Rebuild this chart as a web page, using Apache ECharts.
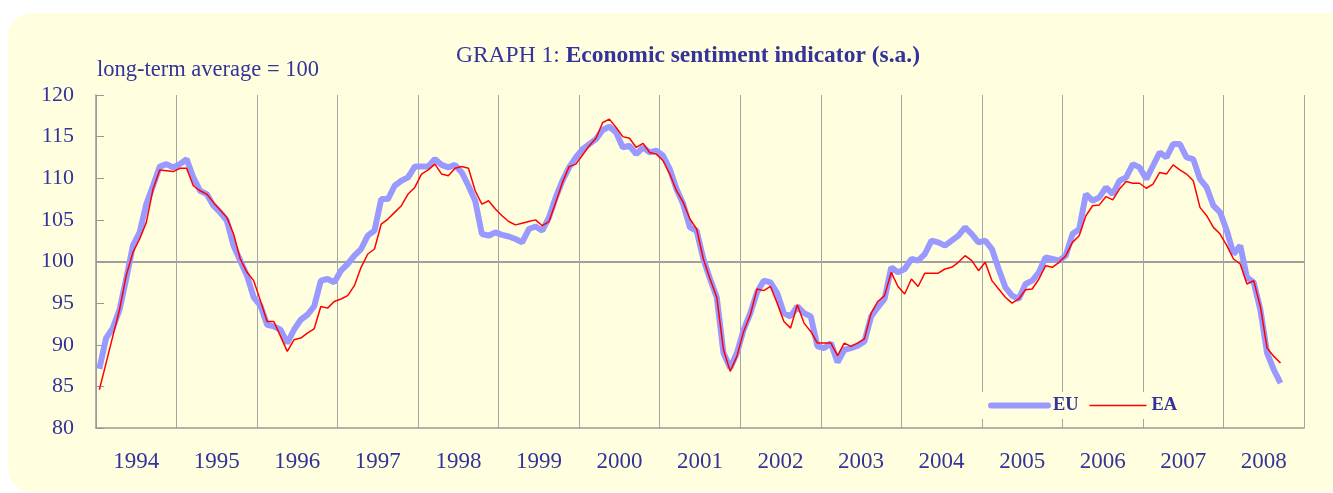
<!DOCTYPE html>
<html>
<head>
<meta charset="utf-8">
<script src="https://cdn.jsdelivr.net/npm/echarts@6/dist/echarts.min.js"></script>
<style>
html,body{margin:0;padding:0;background:#ffffff;width:1333px;height:493px;overflow:hidden}
#bg{position:absolute;left:8px;top:13px;width:1345px;height:479px;background:#ffffe0;border-radius:24px}
#chart{position:absolute;left:0;top:0;width:1333px;height:493px}
</style>
</head>
<body>
<div id="bg"></div>
<div id="chart"></div>
<script>
// Year labels (monthly data Jan 1994 - Sep 2008)
const years = ['1994','1995','1996','1997','1998','1999','2000','2001','2002','2003','2004','2005','2006','2007','2008'];
const yMin = 80, yMax = 120, yStep = 5;

// EU economic sentiment indicator, monthly from Jan 1994
const euValues = [
  87.1, 90.8, 92.0, 94.2, 97.9, 101.9, 103.5, 106.9, 109.1, 111.4, 111.7, 111.3,
  111.7, 112.3, 110.1, 108.5, 108.1, 106.7, 105.9, 104.9, 101.9, 100.1, 98.3, 95.7,
  94.7, 92.4, 92.2, 91.8, 90.2, 91.8, 93.0, 93.6, 94.6, 97.7, 97.9, 97.5,
  98.9, 99.7, 100.7, 101.5, 103.1, 103.7, 107.5, 107.5, 109.1, 109.7, 110.1, 111.4,
  111.4, 111.4, 112.3, 111.6, 111.3, 111.6, 110.7, 109.1, 107.3, 103.3, 103.1, 103.5,
  103.2, 103.0, 102.7, 102.3, 103.9, 104.2, 103.7, 105.3, 107.7, 109.7, 111.3, 112.5,
  113.5, 114.1, 114.7, 115.8, 116.2, 115.5, 113.7, 113.9, 112.9, 113.7, 113.1, 113.3,
  112.7, 111.1, 108.7, 106.9, 104.1, 103.7, 100.3, 97.9, 95.7, 89.0, 87.2, 89.0,
  91.8, 93.8, 96.3, 97.7, 97.5, 96.2, 93.8, 93.4, 94.6, 93.8, 93.4, 89.8,
  89.6, 90.2, 87.9, 89.4, 89.6, 89.9, 90.4, 93.4, 94.5, 95.5, 99.3, 98.7,
  99.1, 100.3, 100.1, 100.9, 102.5, 102.3, 101.9, 102.5, 103.1, 104.1, 103.3, 102.3,
  102.5, 101.5, 99.1, 96.9, 95.9, 95.5, 97.3, 97.7, 98.7, 100.5, 100.3, 100.1,
  100.7, 103.3, 103.9, 108.1, 107.3, 107.7, 108.9, 108.1, 109.7, 110.1, 111.7, 111.3,
  109.9, 111.5, 113.1, 112.5, 114.1, 114.1, 112.5, 112.3, 109.9, 108.9, 106.7, 105.9,
  103.7, 100.9, 101.9, 98.1, 97.5, 94.2, 89.0, 87.0, 85.4
];

// Euro area economic sentiment indicator, monthly from Jan 1994
const eaValues = [
  84.6, 87.8, 91.0, 94.2, 98.3, 101.1, 102.7, 104.7, 108.7, 111.0, 110.9, 110.8,
  111.2, 111.2, 109.1, 108.5, 108.1, 107.1, 106.2, 105.3, 103.3, 100.3, 98.7, 97.7,
  95.3, 92.8, 92.8, 91.0, 89.2, 90.6, 90.8, 91.4, 91.9, 94.6, 94.4, 95.2,
  95.5, 95.9, 97.1, 99.3, 100.9, 101.5, 104.5, 105.1, 105.9, 106.7, 108.1, 108.9,
  110.5, 111.0, 111.7, 110.5, 110.3, 111.2, 111.4, 111.2, 108.5, 106.9, 107.3, 106.3,
  105.5, 104.8, 104.4, 104.6, 104.8, 105.0, 104.3, 104.8, 107.1, 109.5, 111.4, 111.7,
  112.8, 113.9, 114.8, 116.7, 117.1, 116.1, 115.0, 114.8, 113.7, 114.2, 113.1, 112.9,
  112.1, 110.5, 108.5, 107.1, 105.1, 103.9, 100.3, 97.9, 95.7, 89.4, 86.8, 88.6,
  91.6, 93.6, 96.7, 96.5, 97.0, 95.0, 92.8, 92.0, 94.8, 92.6, 91.6, 90.2,
  90.2, 90.2, 88.7, 90.2, 89.8, 90.2, 90.7, 93.8, 95.2, 95.9, 98.7, 97.0,
  96.1, 97.9, 97.0, 98.6, 98.6, 98.6, 99.1, 99.3, 99.9, 100.7, 100.1, 98.9,
  99.9, 97.7, 96.7, 95.7, 95.0, 95.5, 96.6, 96.7, 97.9, 99.5, 99.3, 99.9,
  100.7, 102.3, 103.1, 105.5, 106.7, 106.8, 107.8, 107.4, 108.7, 109.6, 109.4, 109.4,
  108.8, 109.3, 110.7, 110.5, 111.6, 111.0, 110.5, 109.7, 106.5, 105.5, 104.1, 103.3,
  101.9, 100.3, 99.7, 97.3, 97.7, 94.6, 89.6, 88.6, 87.8
];

const TXT = '#333399';
const SERIF = '"Liberation Serif","DejaVu Serif","Times New Roman",serif';
const monthsTotal = years.length * 12;

// place each monthly value at the middle of its month on a month scale
const euData = euValues.map((v, i) => [i + 0.5, v]);
const eaData = eaValues.map((v, i) => [i + 0.5, v]);

const nLines = (yMax - yMin) / yStep + 1;
const splitColors = [];
for (let k = 0; k < nLines; k++) {
  splitColors.push(yMin + k * yStep === 100 ? '#a0a0a0' : 'rgba(0,0,0,0)');
}

const chart = echarts.init(document.getElementById('chart'), null, {renderer: 'canvas'});
chart.setOption({
  backgroundColor: 'transparent',
  animation: false,
  title: [
    {
      text: '{a|GRAPH 1: }{b|Economic sentiment indicator (s.a.)}',
      left: 688, top: 44, padding: 0, textAlign: 'center',
      textStyle: {
        rich: {
          a: {fontFamily: SERIF, fontSize: 23.5, color: TXT, fontWeight: 'normal'},
          b: {fontFamily: SERIF, fontSize: 23.5, color: TXT, fontWeight: 'bold'}
        }
      }
    },
    {
      text: 'long-term average = 100',
      left: 97, top: 59, padding: 0,
      textStyle: {fontFamily: SERIF, fontSize: 22.5, color: TXT, fontWeight: 'normal'}
    }
  ],
  legend: {
    left: 978, top: 392, padding: [4, 10],
    backgroundColor: '#ffffe0',
    itemWidth: 57, itemHeight: 14, itemGap: 10,
    textStyle: {fontFamily: SERIF, fontSize: 18.5, fontWeight: 'bold', color: TXT},
    data: [
      {name: 'EU', itemStyle: {opacity: 0}, lineStyle: {width: 6, cap: 'round', color: '#9999ff'}},
      {name: 'EA', itemStyle: {opacity: 0}, lineStyle: {width: 1.5, color: '#ff0000'}}
    ]
  },
  grid: {left: 96, right: 29, top: 95, bottom: 65, containLabel: false, outerBoundsMode: 'none'},
  xAxis: [
    {
      type: 'value', min: 0, max: monthsTotal, interval: 12,
      axisLine: {show: true, lineStyle: {color: '#999999', width: 1.5}},
      axisTick: {show: false},
      axisLabel: {show: false},
      splitLine: {show: true, lineStyle: {color: '#a6a6a6', width: 1}}
    },
    {
      type: 'category', data: years, position: 'bottom', boundaryGap: true,
      axisLine: {show: false}, axisTick: {show: false},
      splitLine: {show: false},
      axisLabel: {fontFamily: SERIF, fontSize: 23, color: TXT, margin: 22, interval: 0}
    }
  ],
  yAxis: {
    type: 'value', min: yMin, max: yMax, interval: yStep,
    axisLine: {show: true, lineStyle: {color: '#999999', width: 1.5}},
    axisTick: {show: true, inside: true, length: 8, lineStyle: {color: '#999999'}},
    axisLabel: {fontFamily: SERIF, fontSize: 22, color: TXT, margin: 22},
    splitLine: {show: true, lineStyle: {color: splitColors, width: 2}}
  },
  series: [
    {
      name: 'EU', type: 'line', xAxisIndex: 0, data: euData,
      showSymbol: false, symbol: 'none',
      lineStyle: {color: '#9999ff', width: 6},
      itemStyle: {color: '#9999ff'},
      z: 2
    },
    {
      name: 'EA', type: 'line', xAxisIndex: 0, data: eaData,
      showSymbol: false, symbol: 'none',
      lineStyle: {color: '#ff0000', width: 1.5},
      itemStyle: {color: '#ff0000'},
      z: 3
    }
  ]
});
</script>
</body>
</html>
